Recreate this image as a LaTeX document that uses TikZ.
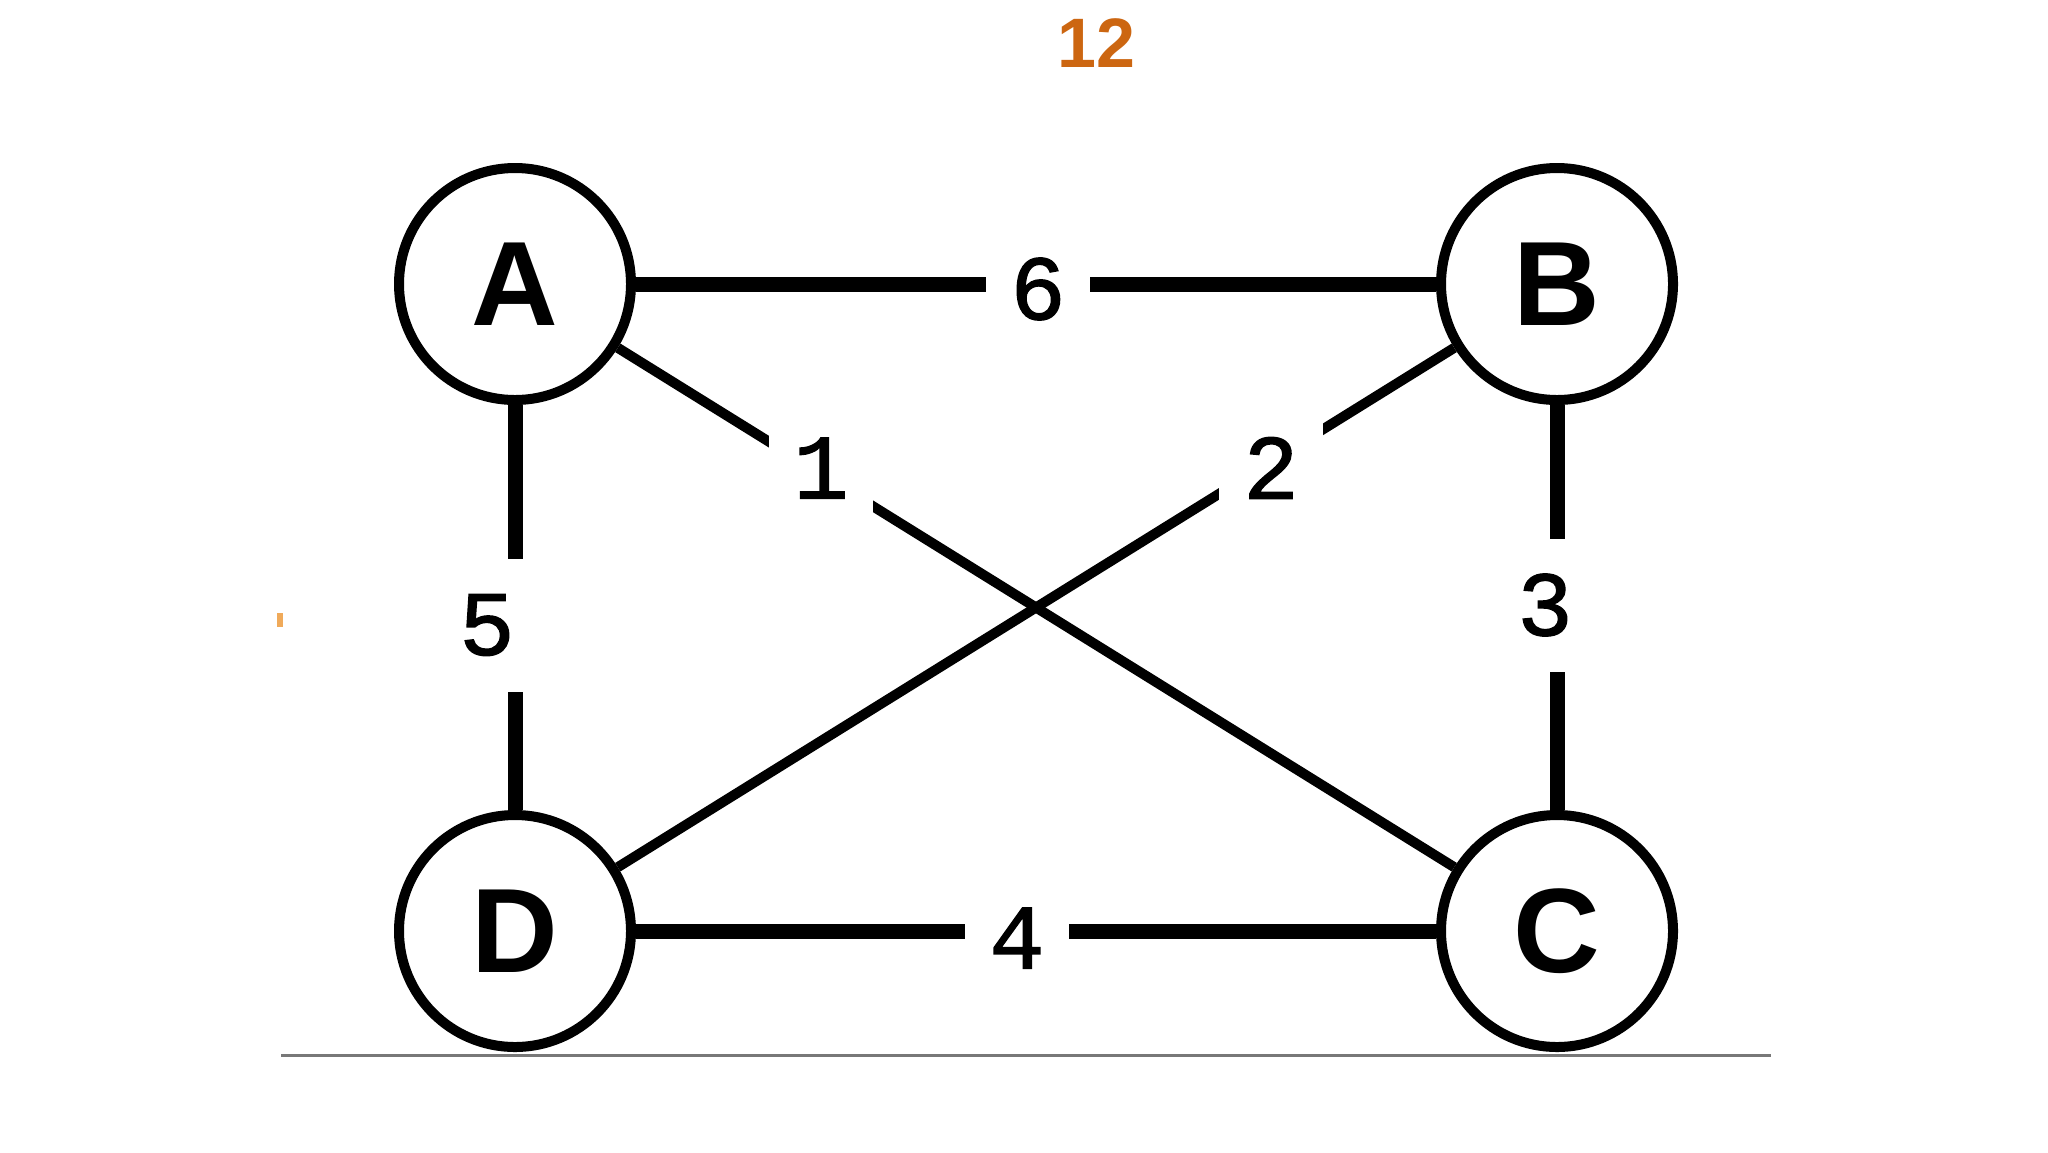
\documentclass[tikz,border=0pt]{standalone}
\usepackage{fontspec}
\setmainfont{Liberation Sans}
\newfontfamily\labfont[FakeBold=1.5]{Liberation Mono}
\definecolor{titleorange}{RGB}{204,102,17}
\definecolor{markorange}{RGB}{240,170,90}
\definecolor{basegray}{RGB}{120,120,120}
\begin{document}
\begin{tikzpicture}[x=0.5pt,y=-0.5pt,
  vertex/.style={circle,draw=black,line width=5pt,fill=white,minimum size=116pt,inner sep=0pt,
    font=\fontsize{60}{60}\selectfont\bfseries},
  wlabel/.style={rectangle,fill=white,minimum width=52pt,minimum height=66.5pt,inner sep=0pt,
    font=\labfont\fontsize{46}{46}\selectfont},
  heavy/.style={line width=7.5pt},
  slim/.style={line width=5pt},
  titlestyle/.style={text=titleorange,font=\fontsize{35}{35}\selectfont\bfseries}]
\useasboundingbox (0,0) rectangle (2048,1152);
\node[titlestyle] (title) at (1096,43) {12};
\fill[markorange] (277,613) rectangle (283,627);
\coordinate (gl) at (281,1055);
\coordinate (gr) at (1771,1055);
\draw[basegray,line width=1.5pt] (gl) -- (gr);
\node[vertex] (A) at (515,284) {A};
\node[vertex] (B) at (1557,284) {B};
\node[vertex] (C) at (1557,931) {C};
\node[vertex] (D) at (515,931) {D};
\draw[heavy] (A) -- (B);
\draw[heavy] (B) -- (C);
\draw[heavy] (D) -- (C);
\draw[heavy] (A) -- (D);
\draw[slim] (A) -- (C);
\draw[slim] (B) -- (D);
\node[wlabel] (l6) at (1038,289) {6};
\node[wlabel] (l1) at (821,468) {1};
\node[wlabel] (l2) at (1271,468) {2};
\node[wlabel] (l5) at (487,625) {5};
\node[wlabel] (l3) at (1545,605) {3};
\node[wlabel] (l4) at (1017,938) {4};
\end{tikzpicture}
\end{document}
